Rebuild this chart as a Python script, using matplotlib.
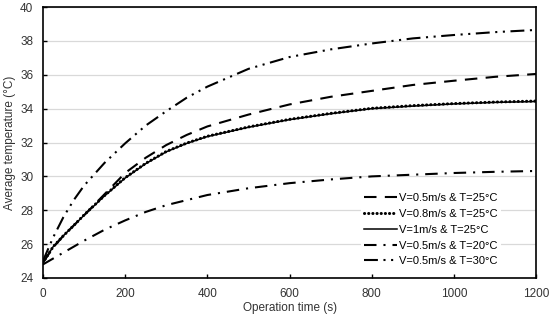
import matplotlib
matplotlib.use('Agg')
import matplotlib.pyplot as plt

plt.rcParams['font.family'] = ['Liberation Sans', 'DejaVu Sans']
plt.rcParams['lines.scale_dashes'] = False

# operation time (s)
t = [0, 25, 50, 75, 100, 150, 200, 250, 300, 350, 400, 500, 600, 700, 800, 900, 1000, 1100, 1200]

# average temperature (C)
v05_t25 = [24.9, 25.8, 26.5, 27.1, 27.7, 28.95, 30.2, 31.1, 31.85, 32.45, 32.95,
           33.65, 34.25, 34.7, 35.05, 35.4, 35.65, 35.88, 36.05]
v08_t25 = [24.9, 25.85, 26.5, 27.1, 27.72, 28.87, 29.92, 30.77, 31.47, 31.97, 32.37,
           32.92, 33.37, 33.72, 34.02, 34.18, 34.3, 34.39, 34.45]
v1_t25 = [24.9, 25.85, 26.5, 27.1, 27.7, 28.85, 29.9, 30.75, 31.45, 31.95, 32.35,
          32.9, 33.35, 33.7, 34.0, 34.15, 34.28, 34.37, 34.42]
v05_t20 = [24.8, 25.15, 25.5, 25.85, 26.2, 26.85, 27.4, 27.9, 28.3, 28.6, 28.9,
           29.3, 29.6, 29.82, 30.0, 30.1, 30.2, 30.27, 30.32]
v05_t30 = [25.0, 26.4, 27.6, 28.6, 29.45, 30.8, 31.95, 33.0, 33.85, 34.65, 35.3,
           36.35, 37.05, 37.5, 37.85, 38.15, 38.35, 38.52, 38.65]

labels = ['V=0.5m/s & T=25°C', 'V=0.8m/s & T=25°C', 'V=1m/s & T=25°C',
          'V=0.5m/s & T=20°C', 'V=0.5m/s & T=30°C']

fig = plt.figure(figsize=(5.5, 3.21), dpi=100)
ax = fig.add_axes([0.078, 0.134, 0.897, 0.844])

lw = 1.5
ax.plot(t, v05_t25, color='black', lw=lw, ls=(0, (9, 6)), label=labels[0])
ax.plot(t, v08_t25, color='black', lw=2.2, ls=(0, (0.1, 2.9)), dash_capstyle='round', label=labels[1])
ax.plot(t, v1_t25, color='black', lw=1.1, label=labels[2])
ax.plot(t, v05_t20, color='black', lw=lw, ls=(0, (9, 5, 1.5, 5)), label=labels[3])
ax.plot(t, v05_t30, color='black', lw=lw, ls=(0, (10, 4, 1.5, 4, 1.5, 4)), label=labels[4])

ax.set_xlim(0, 1200)
ax.set_ylim(24, 40)
ax.set_xticks(range(0, 1201, 200))
ax.set_yticks(range(24, 41, 2))
ax.grid(axis='y', color='#d9d9d9', lw=0.9)
ax.set_axisbelow(True)
for s in ax.spines.values():
    s.set_linewidth(1.2)
ax.tick_params(direction='in', length=3, width=1, labelsize=8.5, colors='black',
               labelcolor='#333333')
ax.tick_params(axis='x', pad=7)
ax.tick_params(axis='y', pad=7)

ax.set_xlabel('Operation time (s)', fontsize=8.5, color='#333333', labelpad=2)
ax.set_ylabel('Average temperature (°C)', fontsize=8.5, color='#333333', labelpad=3)

leg = ax.legend(loc='lower right', bbox_to_anchor=(0.94, 0.01), fontsize=8,
                frameon=True, edgecolor='none', facecolor='white', framealpha=1,
                handlelength=3.0, handletextpad=0.15, labelspacing=0.52,
                borderpad=0.3)
leg.get_frame().set_linewidth(0)

fig.savefig('out.png', dpi=100)
